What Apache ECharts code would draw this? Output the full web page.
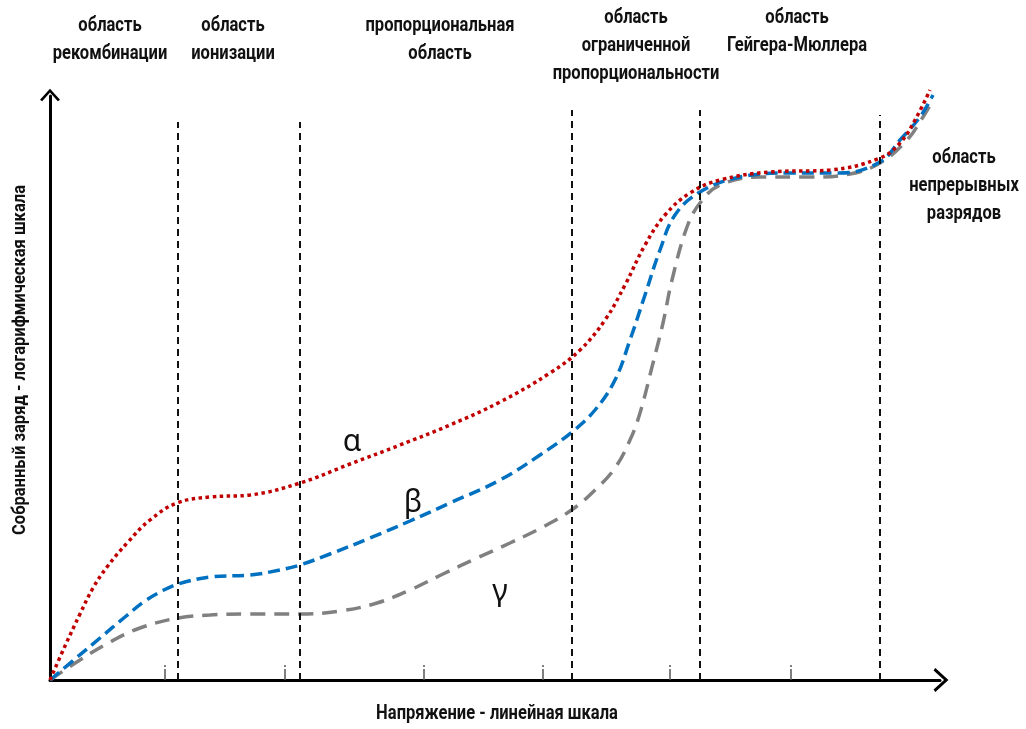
<!DOCTYPE html>
<html><head><meta charset="utf-8">
<script src="https://cdn.jsdelivr.net/npm/echarts@6/dist/echarts.min.js"></script>
<style>html,body{margin:0;padding:0;background:#fff}#c{width:1026px;height:729px}</style>
</head><body><div id="c"></div>
<script>
// Values: x = voltage (linear, arbitrary units), y = collected charge (log scale, arbitrary units)
const alphaData = [[0,0],[15,34],[30,66],[43,92],[57,113],[78,138],[100,160],[127,177],[160,183],[200,185],[250,197],[300,216],[350,235],[400,255],[450,278],[500,307],[530,330],[555,360],[575,395],[595,435],[615,465],[640,487],[670,500],[720,508],[780,510],[830,522],[850,537],[865,560],[880,590]];
const betaData = [[0,0],[25,21],[50,42],[75,63],[95,79],[112,89],[128,96],[160,103],[200,105],[230,110],[250,115],[280,126],[320,142],[360,159],[400,177],[450,200],[490,225],[522,248],[545,270],[565,300],[580,340],[595,385],[610,430],[625,465],[650,488],[690,503],[740,507],[790,507],[830,518],[850,540],[870,563],[883,585]];
const gammaData = [[0,0],[30,20],[60,38],[90,52],[128,62],[160,65],[200,66],[250,66],[290,69],[327,77],[360,90],[393,106],[427,122],[460,137],[493,153],[523,171],[545,190],[565,212],[580,240],[590,267],[603,317],[613,357],[622,400],[637,453],[650,477],[670,495],[710,503],[760,503],[800,506],[830,517],[857,540],[873,563],[883,580]];
const boundaries = [128, 250, 522, 650, 830];
const boundaryTops = [558, 558, 570, 570, 565];
const tickValues = [115, 235, 374, 493, 620, 741];
const regionLabels = ['область\nрекомбинации', 'область\nионизации', 'пропорциональная\nобласть', 'область\nограниченной\nпропорциональности', 'область\nГейгера-Мюллера', 'область\nнепрерывных\nразрядов'];
const greekLabels = ['α', 'β', 'γ'];
const xAxisName = 'Напряжение - линейная шкала';
const yAxisName = 'Собранный заряд - логарифмическая шкала';

// layout
const regionPos = [[110,12],[233,12],[440,12],[636,4],[797,4],[964,144]];
const greekPos = [[352,442],[413,503],[500,592]];
const FONT = 'Roboto, "Noto Sans", sans-serif';
const FS = 21;

// condensed look: horizontal scale computed from measured text widths
const ctx = document.createElement('canvas').getContext('2d');
ctx.font = 'bold ' + FS + 'px ' + FONT;
const condScale = 149 / ctx.measureText('пропорциональная').width;
ctx.font = 'bold 19px ' + FONT;
const yScale = 350 / ctx.measureText(yAxisName).width;

const chart = echarts.init(document.getElementById('c'), null, {renderer: 'canvas'});
const chevron = 'path://M0,12 L11,0 L22,12 L19.6,13.6 L11,4 L2.4,13.6 Z';

const graphics = [];
regionLabels.forEach((t, i) => graphics.push({
  type: 'text', x: regionPos[i][0], y: regionPos[i][1], scaleX: condScale, silent: true,
  style: {text: t, textAlign: 'center', textVerticalAlign: 'top', fill: '#111',
    fontFamily: FONT, fontWeight: 'bold', fontSize: FS, lineHeight: 28}
}));
greekLabels.forEach((t, i) => graphics.push({
  type: 'text', x: greekPos[i][0], y: greekPos[i][1], silent: true,
  style: {text: t, textAlign: 'center', textVerticalAlign: 'middle', fill: '#111',
    fontFamily: '"Noto Sans","Open Sans",sans-serif', fontSize: 30}
}));
graphics.push({
  type: 'text', x: 497, y: 714, scaleX: condScale, silent: true,
  style: {text: xAxisName, textAlign: 'center', textVerticalAlign: 'middle', fill: '#111',
    fontFamily: FONT, fontWeight: 'bold', fontSize: FS}
});
graphics.push({
  type: 'text', x: 20, y: 360, rotation: Math.PI / 2, scaleX: yScale, silent: true,
  style: {text: yAxisName, textAlign: 'center', textVerticalAlign: 'middle', fill: '#111',
    fontFamily: FONT, fontWeight: 'bold', fontSize: 19}
});

const boundaryLines = boundaries.map((b, i) => [{coord: [b, 0]}, {coord: [b, boundaryTops[i]]}]);

const option = {
  animation: false,
  backgroundColor: '#fff',
  grid: {left: 50, right: 86, top: 96, bottom: 49, containLabel: false},
  xAxis: {
    type: 'value', min: 0, max: 890,
    axisLine: {show: true, lineStyle: {color: '#000', width: 3},
      symbol: ['none', chevron], symbolSize: [24, 15], symbolOffset: [0, 1]},
    axisTick: {show: true, inside: true, length: 15, customValues: tickValues,
      lineStyle: {color: '#555', width: 1.5, type: [11, 2]}},
    axisLabel: {show: false},
    splitLine: {show: false}
  },
  yAxis: {
    type: 'value', min: 0, max: 584,
    axisLine: {show: true, lineStyle: {color: '#000', width: 3},
      symbol: ['none', chevron], symbolSize: [20, 13], symbolOffset: [0, 1]},
    axisTick: {show: false},
    axisLabel: {show: false},
    splitLine: {show: false}
  },
  graphic: graphics,
  series: [
    {
      name: 'boundaries', type: 'line', data: [], silent: true,
      markLine: {silent: true, symbol: ['none', 'none'], label: {show: false},
        lineStyle: {color: '#111', width: 2, type: [7, 5]}, data: boundaryLines}
    },
    {
      name: 'γ', type: 'line', data: gammaData, showSymbol: false, symbol: 'none',
      smooth: 0.4, clip: false,
      lineStyle: {color: '#808080', width: 3.5, type: [15, 9]}
    },
    {
      name: 'β', type: 'line', data: betaData, showSymbol: false, symbol: 'none',
      smooth: 0.4, clip: false,
      lineStyle: {color: '#0070C0', width: 3.5, type: [12, 6]}
    },
    {
      name: 'α', type: 'line', data: alphaData, showSymbol: false, symbol: 'none',
      smooth: 0.4, clip: false,
      lineStyle: {color: '#C00000', width: 3.5, type: [3.5, 3.5]}
    }
  ]
};
chart.setOption(option);
</script></body></html>
